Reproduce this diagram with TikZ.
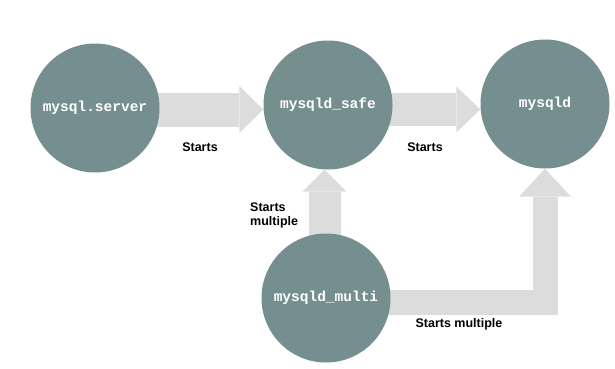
\documentclass[tikz,border=0pt]{standalone}
\usepackage{fontspec}
\setmainfont{Liberation Sans}
\newfontfamily\codefont{Liberation Mono}
\usetikzlibrary{arrows.meta, backgrounds}

\definecolor{procfill}{RGB}{117,142,143}
\definecolor{flowfill}{RGB}{220,220,220}

\tikzset{
  proc/.style={circle, fill=procfill, minimum size=129pt, inner sep=0pt,
    text=white, font=\codefont\bfseries\fontsize{14.5}{16}\selectfont},
  flow/.style={draw=flowfill, line width=#1},
  lbl/.style={font=\bfseries\fontsize{12.5}{14}\selectfont, inner sep=0pt, align=left}
}

\begin{document}
\begin{tikzpicture}[x=1pt,y=1pt]
  \useasboundingbox (0,0) rectangle (615,368);

  \node[proc] (server) at (95,260) {mysql.server};
  \node[proc] (safe) at (328,263) {mysqld\_safe};
  \node[proc] (mysqld) at (545,264) {mysqld};
  \node[proc] (multi) at (326,70) {mysqld\_multi};

  \begin{scope}[on background layer]
    \draw[flow=34pt, -{Triangle[length=24pt,width=47pt,line width=0pt]}]
      ([yshift=-1.5pt]server.center) -- ([yshift=-1.5pt]server.center -| safe.west);
    \draw[flow=33pt, -{Triangle[length=24pt,width=46pt,line width=0pt]}]
      ([yshift=-4.5pt]safe.center) -- ([yshift=-4.5pt]safe.center -| mysqld.west);
    \draw[flow=32pt, -{Triangle[length=22pt,width=44pt,line width=0pt]}]
      ([xshift=-1.5pt]multi.center) -- ([xshift=-1.5pt]multi.center |- safe.south);
    \draw[flow=25pt, -{Triangle[length=28pt,width=52pt,line width=0pt]}]
      ([yshift=-4.5pt]multi.center) -| (mysqld.south);
  \end{scope}

  \node[lbl] (l1) at (200,221) {Starts};
  \node[lbl] (l2) at (425,221) {Starts};
  \node[lbl, anchor=west] (l3) at (250,153) {Starts\\multiple};
  \node[lbl] (l4) at (459,44) {Starts multiple};
\end{tikzpicture}
\end{document}
